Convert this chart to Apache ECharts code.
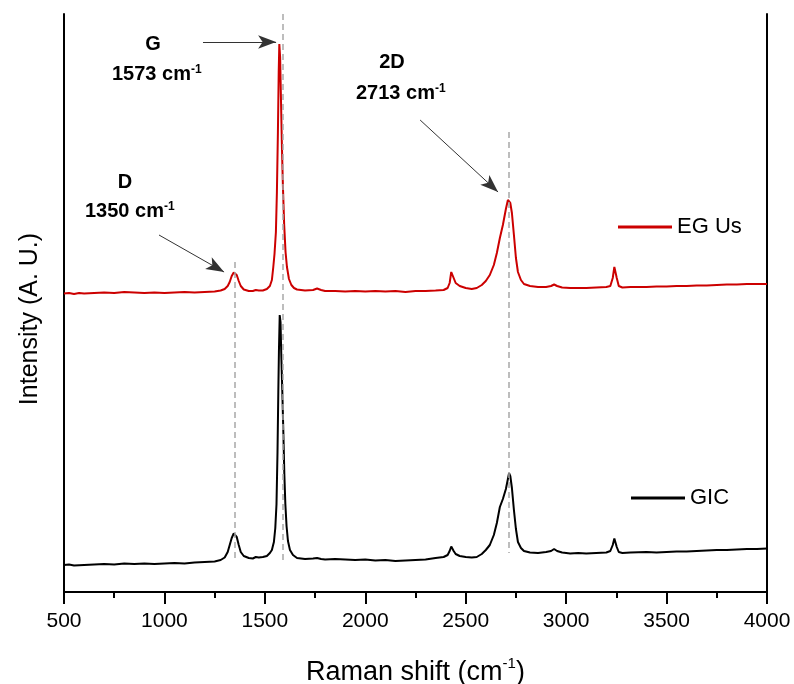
<!DOCTYPE html>
<html>
<head>
<meta charset="utf-8">
<script src="https://cdn.jsdelivr.net/npm/echarts@6/dist/echarts.min.js"></script>
<style>html,body{margin:0;padding:0;background:#fff}#c{width:794px;height:684px}</style>
</head>
<body>
<div id="c"></div>
<script>
// x ticks
const xTicks = [500, 1000, 1500, 2000, 2500, 3000, 3500, 4000];
// series names
const seriesNames = ['EG Us', 'GIC'];
// EG Us spectrum: [Raman shift (cm-1), intensity (A.U.)]
const egUsSpectrum = [[500,298.5],[525,299],[550,298],[575,299],[600,298.5],[650,299],[700,299.5],[750,299],[800,300],[850,299.5],[900,299],[950,299.5],[1000,299],[1050,299.5],[1100,300],[1150,299.5],[1200,300],[1250,300.5],[1280,301.5],[1300,303],[1315,306],[1325,310],[1335,316],[1345,319.5],[1352,320],[1360,317],[1370,311],[1380,306],[1395,302.5],[1420,301],[1440,301],[1455,302],[1462,303.5],[1470,301.5],[1490,301.5],[1510,303],[1525,306],[1535,312],[1542,325],[1548,338],[1555,360],[1560,400],[1565,460],[1569,520],[1572,548],[1576,535],[1580,495],[1585,445],[1590,405],[1596,368],[1603,340],[1610,325],[1620,313],[1632,307],[1645,304],[1660,302.5],[1700,301.5],[1740,302],[1760,303.5],[1780,302],[1800,301],[1850,301],[1900,300.5],[1950,301],[2000,300.5],[2050,301],[2100,300.5],[2150,301],[2200,300],[2250,301],[2300,301],[2350,301.5],[2390,302],[2410,304],[2420,309],[2428,320],[2433,321],[2440,314],[2450,309],[2470,306],[2500,304],[2530,303],[2555,304],[2580,307],[2600,311],[2620,317],[2640,327],[2655,339],[2670,354],[2685,367],[2700,383],[2710,392],[2716,394],[2722,389],[2730,379],[2740,357],[2750,334],[2760,320],[2775,312],[2790,308],[2820,306],[2860,305],[2900,305],[2925,306],[2940,307.5],[2955,306],[2980,304.5],[3020,304],[3060,304],[3100,304],[3150,304.5],[3200,305],[3220,306],[3232,314],[3240,325],[3246,324],[3252,314],[3262,306],[3280,304.5],[3320,305],[3400,305],[3450,305.5],[3500,305.5],[3550,306],[3600,306],[3650,306.5],[3700,306.5],[3750,307],[3800,307.5],[3850,307.5],[3900,308],[3950,308],[4000,308]];
// GIC spectrum
const gicSpectrum = [[500,27],[525,27.5],[550,26.5],[600,27],[650,27.5],[700,28],[750,27.5],[800,28.5],[850,28],[900,28.5],[950,28],[1000,28.5],[1050,29],[1100,28.5],[1150,29.5],[1200,30],[1250,30.5],[1280,32],[1300,34.5],[1315,40],[1325,47],[1335,54],[1345,58.5],[1352,59],[1360,55],[1370,47],[1380,40],[1395,36],[1420,34],[1440,33.5],[1455,35],[1462,36],[1470,34.5],[1490,35],[1510,36],[1525,39],[1535,42],[1545,50],[1552,64],[1558,88],[1563,140],[1567,200],[1570,240],[1574,277],[1578,270],[1582,235],[1587,200],[1592,160],[1597,118],[1602,88],[1608,66],[1615,51],[1625,42],[1640,37],[1660,34],[1700,33],[1740,33.5],[1760,34],[1780,33],[1800,32.5],[1850,33],[1900,32.5],[1950,32],[2000,32.5],[2050,31.5],[2100,32],[2150,31],[2200,31.5],[2250,32],[2300,32.5],[2350,34],[2390,35],[2410,37],[2420,41],[2428,45.5],[2433,45],[2440,41],[2450,38],[2470,36],[2500,35],[2530,34.5],[2555,35],[2580,38],[2600,42],[2620,47],[2640,57],[2655,69],[2670,85],[2685,93],[2700,103],[2710,113],[2716,119],[2722,116],[2730,104],[2740,82],[2750,63],[2760,50],[2775,44],[2790,41],[2820,39.5],[2860,39],[2900,40],[2925,41],[2940,43],[2955,41],[2980,39.5],[3020,38.5],[3060,39],[3100,38.5],[3150,39],[3200,39.5],[3220,41],[3232,47],[3240,53.5],[3246,53],[3252,45],[3262,40],[3280,39],[3320,39.5],[3400,40],[3450,39.5],[3500,40],[3550,40.5],[3600,40.5],[3650,41],[3700,41.5],[3750,42],[3800,42],[3850,42.5],[3900,43],[3950,43],[4000,43.5]];
// Peak reference lines: [position (cm-1), top, bottom]
const peakLines = [[1348, 330, 32], [1587, 578, 32], [2716, 460, 39]];
// Annotation arrows: [[x0,y0],[x1,y1]]
const arrows = [[[1192, 550], [1556, 550]], [[2273, 472], [2661, 400]], [[973, 357], [1297, 320]]];
// Annotation labels
const peakLabels = ['G', 'D', '2D'];
const peakValues = ['1573', '1350', '2713'];

const FONT = '"Liberation Sans", Arial, Helvetica, sans-serif';
const chart = echarts.init(document.getElementById('c'));

const markLineData = [];
peakLines.forEach(p => {
  markLineData.push([
    {coord: [p[0], p[1]], symbol: 'none', lineStyle: {color: '#a8a8a8', width: 1.5, type: [6, 4]}},
    {coord: [p[0], p[2]], symbol: 'none'}
  ]);
});
arrows.forEach(a => {
  markLineData.push([
    {coord: a[0], symbol: 'none', lineStyle: {color: '#333', width: 1, type: 'solid'}},
    {coord: a[1], symbol: 'arrow', symbolSize: [10, 18]}
  ]);
});

const legendBase = {
  selectedMode: false, icon: 'rect', itemWidth: 54, itemHeight: 3, padding: 0,
  textStyle: {fontSize: 22, color: '#000', fontFamily: FONT}
};

function txt(x, y, text, size, align) {
  return {type: 'text', x: x, y: y, z: 100, style: {
    text: text, font: 'bold ' + size + 'px ' + FONT, fill: '#000',
    align: align, verticalAlign: 'middle',
    rich: {sup: {font: 'bold 12px ' + FONT, verticalAlign: 'top', fill: '#000'}}
  }};
}

chart.setOption({
  animation: false,
  backgroundColor: '#fff',
  grid: {left: 64, right: 27, top: 14, bottom: 92, containLabel: false, outerBoundsMode: 'none'},
  legend: [
    Object.assign({}, legendBase, {data: [seriesNames[0]], left: 618, top: 216}),
    Object.assign({}, legendBase, {data: [seriesNames[1]], left: 631, top: 487})
  ],
  xAxis: [{
    type: 'value', min: xTicks[0], max: xTicks[xTicks.length - 1], interval: 500, position: 'bottom',
    axisLine: {lineStyle: {color: '#000', width: 2}},
    axisTick: {show: true, inside: false, length: 12, lineStyle: {color: '#000', width: 2}},
    minorTick: {show: true, splitNumber: 2, length: 6, lineStyle: {color: '#000', width: 2}},
    splitLine: {show: false},
    axisLabel: {fontSize: 21, color: '#000', fontFamily: FONT, margin: 19, formatter: v => String(v)},
    name: '{n|Raman shift (cm}{sup|-1}{n|)}', nameLocation: 'middle', nameGap: 62,
    nameTextStyle: {color: '#000', fontFamily: FONT, fontSize: 27,
      rich: {n: {fontSize: 27, fontFamily: FONT, color: '#000', lineHeight: 32, verticalAlign: 'bottom'},
             sup: {fontSize: 15, fontFamily: FONT, color: '#000', lineHeight: 32, verticalAlign: 'top', padding: [2, 0, 0, 0]}}}
  }, {
    type: 'value', min: xTicks[0], max: xTicks[xTicks.length - 1], position: 'top',
    axisLine: {show: true, lineStyle: {color: '#000', width: 2}},
    axisTick: {show: false}, axisLabel: {show: false}, splitLine: {show: false}
  }],
  yAxis: [{
    type: 'value', min: 0, max: 578, position: 'left',
    axisLine: {show: true, lineStyle: {color: '#000', width: 2}},
    axisTick: {show: false}, axisLabel: {show: false}, splitLine: {show: false}
  }, {
    type: 'value', min: 0, max: 578, position: 'right',
    axisLine: {show: true, lineStyle: {color: '#000', width: 2}},
    axisTick: {show: false}, axisLabel: {show: false}, splitLine: {show: false}
  }],
  series: [{
    name: seriesNames[0], type: 'line', data: egUsSpectrum, symbol: 'none', showSymbol: false,
    lineStyle: {color: '#cc0000', width: 2}, itemStyle: {color: '#cc0000'}, z: 3,
    markLine: {silent: true, symbol: ['none', 'none'], label: {show: false}, data: markLineData, z: 5}
  }, {
    name: seriesNames[1], type: 'line', data: gicSpectrum, symbol: 'none', showSymbol: false,
    lineStyle: {color: '#000', width: 2}, itemStyle: {color: '#000'}, z: 2
  }],
  graphic: [
    txt(153, 44, peakLabels[0], 20, 'center'),
    txt(112, 74, peakValues[0] + ' cm{sup|-1}', 20, 'left'),
    txt(125, 182, peakLabels[1], 20, 'center'),
    txt(85, 211, peakValues[1] + ' cm{sup|-1}', 20, 'left'),
    txt(392, 62, peakLabels[2], 20, 'center'),
    txt(356, 93, peakValues[2] + ' cm{sup|-1}', 20, 'left'),
    {type: 'text', x: 30, y: 319, rotation: Math.PI / 2, style: {
      text: 'Intensity (A. U.)', font: '25px ' + FONT, fill: '#000', align: 'center', verticalAlign: 'middle'}}
  ]
});
</script>
</body>
</html>
